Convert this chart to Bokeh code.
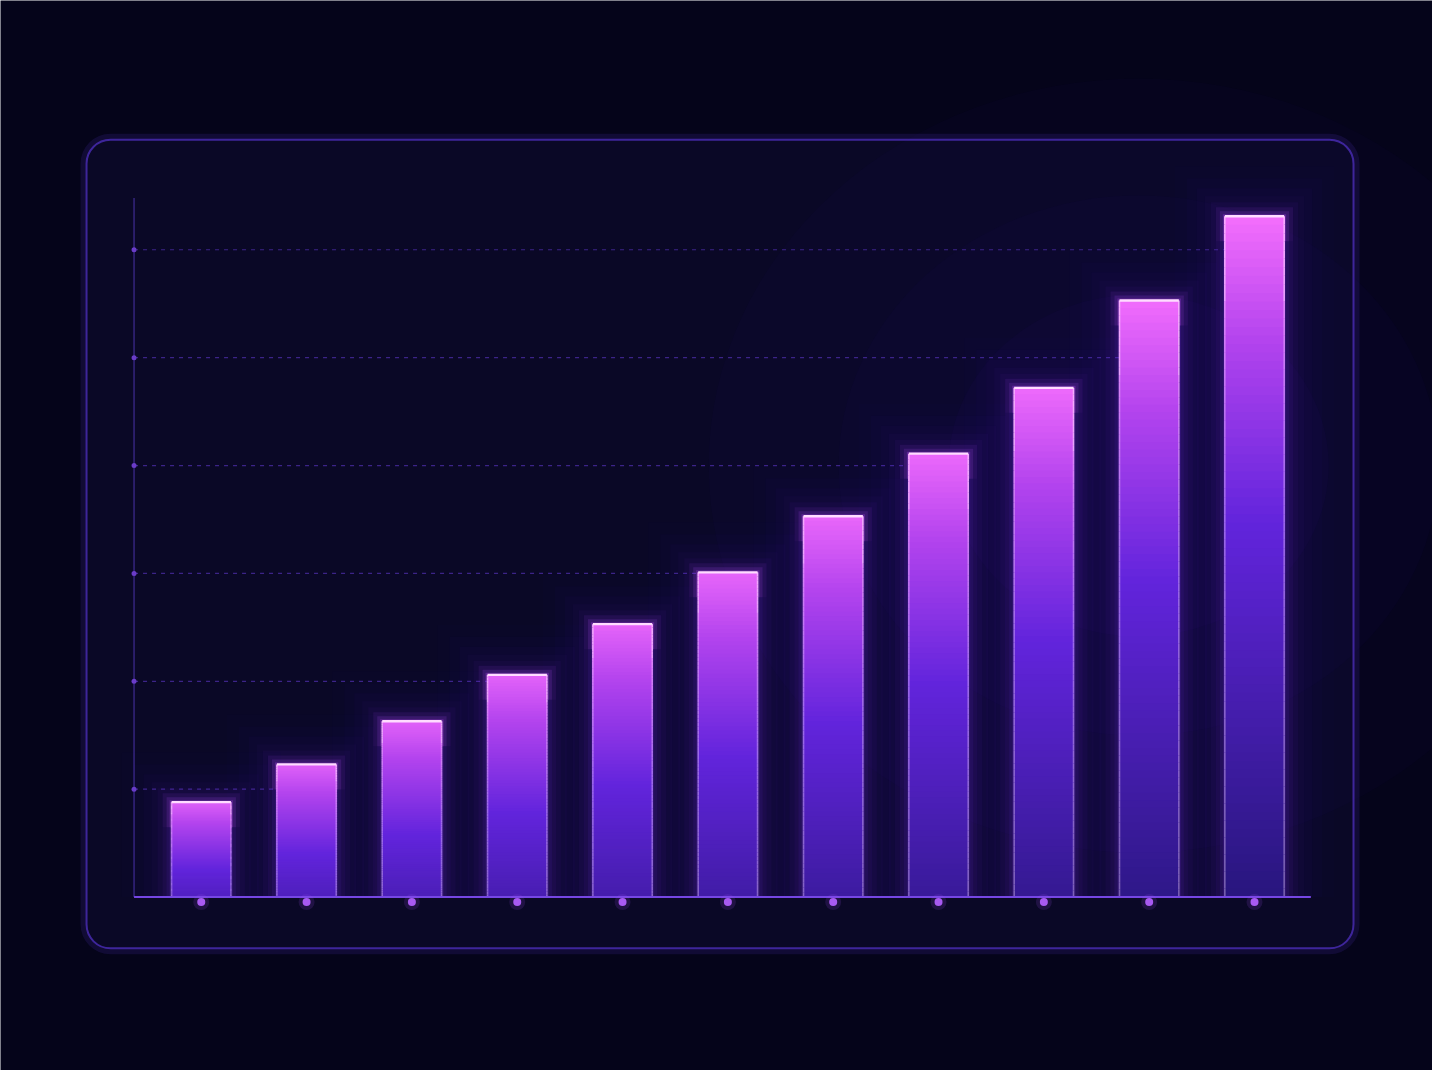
import numpy as np
from bokeh.plotting import figure
from bokeh.models import Range1d, ColumnDataSource, BoxAnnotation
from bokeh.embed import file_html
from bokeh.resources import INLINE

# ---- data ----
categories = list(range(11))
values = [8.8, 12.3, 16.3, 20.6, 25.3, 30.1, 35.3, 41.1, 47.2, 55.3, 63.1]
grid_values = [10, 20, 30, 40, 50, 60]

BG = "#05041a"
W, H = 1432, 1070
XS, XE = -1.906, 11.690
YS, YE = -16.07, 83.10
p = figure(width=W, height=H, output_backend="svg", toolbar_location=None,
           x_axis_type=None, y_axis_type=None,
           x_range=Range1d(XS, XE), y_range=Range1d(YS, YE),
           background_fill_color=BG, border_fill_color=BG,
           outline_line_color=None, min_border=0)
p.grid.visible = False

px_x = (XE - XS) / W   # data units per pixel, x
px_y = (YE - YS) / H   # data units per pixel, y

# ---- panel ----
PL, PR, PT, PB = -1.089, 10.94, 70.2, -4.75
p.add_layout(BoxAnnotation(left=PL - 3 * px_x, right=PR + 3 * px_x,
                           top=PT + 3 * px_y, bottom=PB - 3 * px_y,
                           fill_alpha=0, line_color="#5a34d0", line_alpha=0.15,
                           line_width=6, border_radius=27, level="underlay"))
p.add_layout(BoxAnnotation(left=PL, right=PR, top=PT, bottom=PB,
                           fill_color="#0a0826", fill_alpha=1.0,
                           line_color="#4b2db8", line_alpha=0.8, line_width=2,
                           border_radius=24, level="underlay"))

# soft haze behind the tall bars
for r, a in [(430, 0.025), (300, 0.03), (190, 0.035)]:
    p.ellipse(x=[8.9], y=[40], width=r * 2 * px_x, height=r * 1.8 * px_y,
              fill_color="#4a1fc0", fill_alpha=a, line_color=None)

bw = 60 * 0.989 * px_x
x0 = -0.638
maxv = max(values)

# ---- axes lines ----
p.segment(x0=[x0], y0=[0], x1=[x0], y1=[64.8], line_color="#34257e", line_width=1.5)

# ---- gridlines: stop at first bar reaching the line ----
gx1 = []
for g in grid_values:
    end = 10.535
    for c, v in zip(categories, values):
        if v >= g:
            end = c - bw / 2
            break
    gx1.append(end)
p.segment(x0=[x0] * len(grid_values), y0=grid_values, x1=gx1, y1=grid_values,
          line_color="#45299a", line_width=1.2, line_dash="4 5", line_alpha=0.85)
p.scatter(x=[x0] * len(grid_values), y=grid_values, size=5, fill_color="#6a3cc8",
          line_color=None)


def hex2rgb(h):
    h = h.lstrip("#")
    return np.array([int(h[i:i + 2], 16) for i in (0, 2, 4)], dtype=float)


def rgb2hex(c):
    c = np.clip(np.round(c), 0, 255).astype(int)
    return "#%02x%02x%02x" % tuple(c)


stops = [(0.0, hex2rgb("#f46efd")), (0.18, hex2rgb("#b444ee")),
         (0.45, hex2rgb("#6224dc")), (1.0, hex2rgb("#28167e"))]


def grad(f):
    for (a, ca), (b, cb) in zip(stops[:-1], stops[1:]):
        if f <= b:
            t = (f - a) / (b - a)
            return ca + (cb - ca) * t
    return stops[-1][1]


# ---- glow around bars ----
gl, gr, gb, gt, ga = [], [], [], [], []
for c, v in zip(categories, values):
    for pad, a in [(2, 0.14), (5, 0.09), (9, 0.065), (14, 0.048), (20, 0.035), (28, 0.025),
                   (38, 0.018), (50, 0.012)]:
        gl.append(c - bw / 2 - pad * px_x)
        gr.append(c + bw / 2 + pad * px_x)
        gb.append(0)
        gt.append(v + pad * px_y)
        ga.append(a)
p.quad(left=gl, right=gr, bottom=gb, top=gt, fill_color="#7a30f0", fill_alpha=ga,
       line_color=None)

# pink glow near the tops
tl, tr, tb, tt, ta = [], [], [], [], []
for c, v in zip(categories, values):
    for pad, a in [(2, 0.16), (5, 0.08), (9, 0.04)]:
        tl.append(c - bw / 2 - pad * px_x)
        tr.append(c + bw / 2 + pad * px_x)
        tb.append(v - 25 * px_y)
        tt.append(v + pad * px_y)
        ta.append(a)
p.quad(left=tl, right=tr, bottom=tb, top=tt, fill_color="#e060ff", fill_alpha=ta,
       line_color=None)

# ---- gradient bars (each slice spans down to the baseline; drawn tallest first) ----
N = 80
L, R, B, T, C = [], [], [], [], []
SX, ST, SB, SC = [], [], [], []
for c, v in zip(categories, values):
    fr = v / maxv
    f_top = 0.07 * (1 - fr)
    f_bot = 0.55 + 0.45 * fr
    for j in range(N):
        top = v * (1 - j / N)
        bot = v * (1 - (j + 1) / N)
        f = f_top + (f_bot - f_top) * (j + 0.5) / N
        col = grad(f)
        L.append(c - bw / 2)
        R.append(c + bw / 2)
        T.append(top)
        B.append(0)
        C.append(rgb2hex(col))
        edge = col + (np.array([255, 225, 255]) - col) * (0.55 if j < N * 0.12 else 0.36)
        for xx in (c - bw / 2, c + bw / 2):
            SX.append(xx)
            ST.append(top)
            SB.append(bot)
            SC.append(rgb2hex(edge))

src = ColumnDataSource(dict(left=L, right=R, top=T, bottom=B, color=C))
p.quad(left="left", right="right", top="top", bottom="bottom", fill_color="color",
       line_color=None, source=src)

# side edges (lighter)
p.segment(x0=SX, y0=ST, x1=SX, y1=SB, line_color=SC, line_width=1.6)

# top edge highlight
p.segment(x0=[c - bw / 2 for c in categories], y0=values,
          x1=[c + bw / 2 for c in categories], y1=values,
          line_color="#ffdcff", line_width=2.4)

# ---- baseline ----
p.segment(x0=[x0], y0=[0], x1=[10.535], y1=[0], line_color="#7646e4", line_width=2)

# ---- dots under the bars ----
dy = -5 * px_y
p.scatter(x=categories, y=[dy] * len(categories), size=16, fill_color="#a050f0",
          fill_alpha=0.15, line_color=None)
p.scatter(x=categories, y=[dy] * len(categories), size=8, fill_color="#a85af2",
          line_color=None)

html = file_html(p, INLINE)
html = html.replace("<body>", '<body style="background:%s;">' % BG, 1)
open("out.html", "w").write(html)
